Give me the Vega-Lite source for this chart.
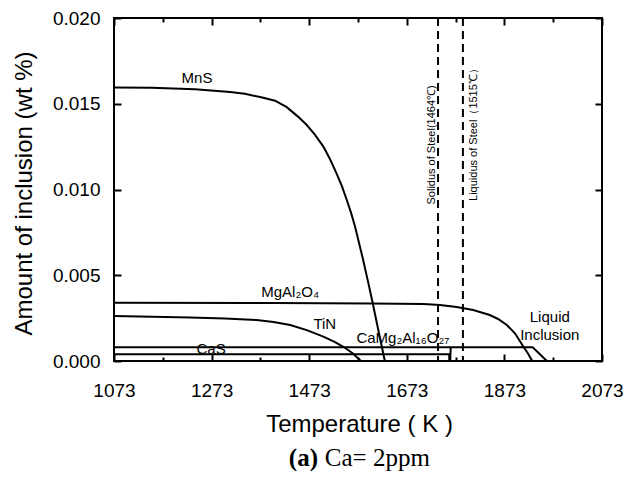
{
  "$schema": "https://vega.github.io/schema/vega-lite/v6.json",
  "width": 488,
  "height": 343,
  "autosize": {"type": "none"},
  "padding": {"left": 114, "top": 18, "right": 28, "bottom": 124},
  "background": "white",
  "config": {
    "view": {"stroke": "black", "strokeWidth": 2},
    "font": "Liberation Sans",
    "axis": {
      "grid": false,
      "domain": false,
      "ticks": true,
      "tickColor": "black",
      "tickWidth": 2,
      "tickOpacity": 1,
      "labelColor": "black",
      "titleColor": "black",
      "labelFont": "Liberation Sans",
      "titleFont": "Liberation Sans",
      "titleFontWeight": "normal",
      "labelFlush": false,
      "labelOverlap": false,
      "labelBound": false
    }
  },
  "resolve": {"axis": {"x": "independent", "y": "independent"}},
  "layer": [
    {
      "data": {"values": [
        {"series": "MnS", "idx": 1, "T": 1073, "amt": 0.01595},
        {"series": "MnS", "idx": 2, "T": 1150, "amt": 0.01594},
        {"series": "MnS", "idx": 3, "T": 1239, "amt": 0.01585},
        {"series": "MnS", "idx": 4, "T": 1311, "amt": 0.01568},
        {"series": "MnS", "idx": 5, "T": 1341, "amt": 0.01558},
        {"series": "MnS", "idx": 6, "T": 1379, "amt": 0.01535},
        {"series": "MnS", "idx": 7, "T": 1403, "amt": 0.01518},
        {"series": "MnS", "idx": 8, "T": 1427, "amt": 0.0148},
        {"series": "MnS", "idx": 9, "T": 1450, "amt": 0.01425},
        {"series": "MnS", "idx": 10, "T": 1468, "amt": 0.01376},
        {"series": "MnS", "idx": 11, "T": 1485, "amt": 0.01318},
        {"series": "MnS", "idx": 12, "T": 1502, "amt": 0.0125},
        {"series": "MnS", "idx": 13, "T": 1516, "amt": 0.01175},
        {"series": "MnS", "idx": 14, "T": 1529, "amt": 0.01094},
        {"series": "MnS", "idx": 15, "T": 1540, "amt": 0.0102},
        {"series": "MnS", "idx": 16, "T": 1550, "amt": 0.00939},
        {"series": "MnS", "idx": 17, "T": 1559, "amt": 0.00862},
        {"series": "MnS", "idx": 18, "T": 1567, "amt": 0.00783},
        {"series": "MnS", "idx": 19, "T": 1582, "amt": 0.00608},
        {"series": "MnS", "idx": 20, "T": 1593, "amt": 0.0047},
        {"series": "MnS", "idx": 21, "T": 1603, "amt": 0.0034},
        {"series": "MnS", "idx": 22, "T": 1615, "amt": 0.00175},
        {"series": "MnS", "idx": 23, "T": 1628, "amt": 0.0},
        {"series": "TiN", "idx": 1, "T": 1073, "amt": 0.00262},
        {"series": "TiN", "idx": 2, "T": 1229, "amt": 0.00253},
        {"series": "TiN", "idx": 3, "T": 1300, "amt": 0.00248},
        {"series": "TiN", "idx": 4, "T": 1365, "amt": 0.00239},
        {"series": "TiN", "idx": 5, "T": 1400, "amt": 0.00228},
        {"series": "TiN", "idx": 6, "T": 1434, "amt": 0.0021},
        {"series": "TiN", "idx": 7, "T": 1468, "amt": 0.0018},
        {"series": "TiN", "idx": 8, "T": 1502, "amt": 0.00142},
        {"series": "TiN", "idx": 9, "T": 1525, "amt": 0.00112},
        {"series": "TiN", "idx": 10, "T": 1543, "amt": 0.00083},
        {"series": "TiN", "idx": 11, "T": 1562, "amt": 0.00045},
        {"series": "TiN", "idx": 12, "T": 1579, "amt": 0.0},
        {"series": "MgAl2O4", "idx": 1, "T": 1073, "amt": 0.0034},
        {"series": "MgAl2O4", "idx": 2, "T": 1400, "amt": 0.00338},
        {"series": "MgAl2O4", "idx": 3, "T": 1600, "amt": 0.00335},
        {"series": "MgAl2O4", "idx": 4, "T": 1707, "amt": 0.00332},
        {"series": "MgAl2O4", "idx": 5, "T": 1741, "amt": 0.00327},
        {"series": "MgAl2O4", "idx": 6, "T": 1775, "amt": 0.00315},
        {"series": "MgAl2O4", "idx": 7, "T": 1809, "amt": 0.00297},
        {"series": "MgAl2O4", "idx": 8, "T": 1843, "amt": 0.00268},
        {"series": "MgAl2O4", "idx": 9, "T": 1860, "amt": 0.00245},
        {"series": "MgAl2O4", "idx": 10, "T": 1878, "amt": 0.0021},
        {"series": "MgAl2O4", "idx": 11, "T": 1895, "amt": 0.0016},
        {"series": "MgAl2O4", "idx": 12, "T": 1912, "amt": 0.00083},
        {"series": "MgAl2O4", "idx": 13, "T": 1921, "amt": 0.00045},
        {"series": "MgAl2O4", "idx": 14, "T": 1930, "amt": 0.0},
        {"series": "CaS", "idx": 1, "T": 1073, "amt": 0.0008},
        {"series": "CaS", "idx": 2, "T": 1762, "amt": 0.0008},
        {"series": "CaMg2Al16O27", "idx": 1, "T": 1073, "amt": 0.0004},
        {"series": "CaMg2Al16O27", "idx": 2, "T": 1760, "amt": 0.0004},
        {"series": "CaMg2Al16O27", "idx": 3, "T": 1760, "amt": 0.0},
        {"series": "Liquid", "idx": 1, "T": 1762, "amt": 0.0},
        {"series": "Liquid", "idx": 2, "T": 1763, "amt": 0.0008},
        {"series": "Liquid", "idx": 3, "T": 1931, "amt": 0.0008},
        {"series": "Liquid", "idx": 4, "T": 1960, "amt": 0.0}
      ]},
      "mark": {"type": "line", "color": "black", "strokeWidth": 2},
      "encoding": {
        "x": {
          "field": "T", "type": "quantitative",
          "scale": {"domain": [1073, 2073], "nice": false, "zero": false},
          "axis": {
            "orient": "bottom",
            "offset": -7,
            "values": [1073, 1273, 1473, 1673, 1873, 2073],
            "format": "d",
            "ticks": true,
            "tickSize": 7,
            "labelFontSize": 19,
            "labelPadding": 20,
            "title": "Temperature ( K )",
            "titleFontSize": 24,
            "titleX": 245,
            "titleY": 70,
            "titleAlign": "center",
            "titleBaseline": "middle"
          }
        },
        "y": {
          "field": "amt", "type": "quantitative",
          "scale": {"domain": [0, 0.02], "nice": false},
          "axis": {
            "orient": "left",
            "offset": -7,
            "values": [0, 0.005, 0.01, 0.015, 0.02],
            "format": ".3f",
            "ticks": true,
            "tickSize": 7,
            "labelFontSize": 19,
            "labelPadding": 14,
            "title": "Amount of inclusion (wt %)",
            "titleFontSize": 24,
            "titleAngle": 270,
            "titleX": -97,
            "titleY": 175,
            "titleAlign": "center",
            "titleBaseline": "middle"
          }
        },
        "detail": {"field": "series"},
        "order": {"field": "idx", "type": "quantitative"}
      }
    },
    {
      "data": {"values": [{"T": 1737}, {"T": 1788}]},
      "mark": {"type": "rule", "color": "black", "strokeWidth": 2, "strokeDash": [8, 5]},
      "encoding": {
        "x": {
          "field": "T", "type": "quantitative",
          "axis": {"orient": "top", "offset": -7, "values": [1073, 1273, 1473, 1673, 1873, 2073], "ticks": true, "tickSize": 7, "labels": false, "title": null}
        }
      }
    },
    {
      "data": {"values": [
        {"label": "MnS", "T": 1243, "amt": 0.0165},
        {"label": "MgAl₂O₄", "T": 1434, "amt": 0.00404},
        {"label": "TiN", "T": 1505, "amt": 0.00216},
        {"label": "CaMg₂Al₁₆O₂₇", "T": 1665, "amt": 0.00134},
        {"label": "CaS", "T": 1272, "amt": 0.0007},
        {"label": "Liquid", "T": 1966, "amt": 0.00258},
        {"label": "Inclusion", "T": 1966, "amt": 0.00152}
      ]},
      "mark": {"type": "text", "font": "Liberation Sans", "fontSize": 15, "color": "black", "align": "center", "baseline": "middle"},
      "encoding": {
        "x": {
          "field": "T", "type": "quantitative",
          "axis": {"orient": "bottom", "offset": -4, "values": [1173, 1373, 1573, 1773, 1973], "ticks": true, "tickSize": 4, "labels": false, "title": null}
        },
        "y": {
          "field": "amt", "type": "quantitative",
          "axis": {"orient": "right", "offset": -7, "values": [0, 0.005, 0.01, 0.015, 0.02], "ticks": true, "tickSize": 7, "labels": false, "title": null}
        },
        "text": {"field": "label"}
      }
    },
    {
      "data": {"values": [
        {"label": "Solidus of Steel(1464℃)", "T": 1725, "amt": 0.0126},
        {"label": "Liquidus of Steel（1515℃）", "T": 1811, "amt": 0.01335}
      ]},
      "mark": {"type": "text", "font": "Liberation Sans", "fontSize": 11, "color": "black", "align": "center", "baseline": "middle", "angle": 270},
      "encoding": {
        "x": {
          "field": "T", "type": "quantitative",
          "axis": {"orient": "top", "offset": -4, "values": [1173, 1373, 1573, 1773, 1973], "ticks": true, "tickSize": 4, "labels": false, "title": null}
        },
        "y": {"field": "amt", "type": "quantitative", "axis": null},
        "text": {"field": "label"}
      }
    },
    {
      "data": {"values": [
        {"label": "(a)", "T": 1491, "amt": -0.00566}
      ]},
      "mark": {"type": "text", "font": "Liberation Serif", "fontSize": 25, "fontWeight": "bold", "color": "black", "align": "right", "baseline": "middle"},
      "encoding": {
        "x": {"field": "T", "type": "quantitative", "axis": null},
        "y": {"field": "amt", "type": "quantitative", "axis": null},
        "text": {"field": "label"}
      }
    },
    {
      "data": {"values": [
        {"label": "Ca= 2ppm", "T": 1505, "amt": -0.00566}
      ]},
      "mark": {"type": "text", "font": "Liberation Serif", "fontSize": 25, "color": "black", "align": "left", "baseline": "middle"},
      "encoding": {
        "x": {"field": "T", "type": "quantitative", "axis": null},
        "y": {"field": "amt", "type": "quantitative", "axis": null},
        "text": {"field": "label"}
      }
    }
  ]
}
